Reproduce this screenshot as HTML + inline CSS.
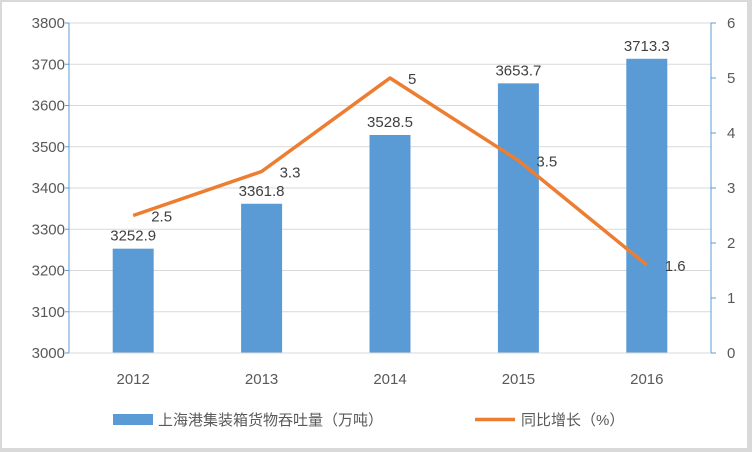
<!DOCTYPE html>
<html><head><meta charset="utf-8"><style>
body{margin:0;background:#d9d9d9;}
#card{position:absolute;left:2px;top:2px;width:745px;height:446px;background:#fff;}
svg{position:absolute;left:0;top:0;}
text{font-family:"Liberation Sans","Noto Sans CJK SC",sans-serif;fill:#595959;font-size:15px;}
</style></head><body>
<div id="card"></div>
<svg id="chart" width="752" height="452"></svg>
<script>
const categories=["2012","2013","2014","2015","2016"];
const throughput=[3252.9,3361.8,3528.5,3653.7,3713.3];
const growth=[2.5,3.3,5,3.5,1.6];
const leftTicks=[3000,3100,3200,3300,3400,3500,3600,3700,3800];
const rightTicks=[0,1,2,3,4,5,6];
const NS="http://www.w3.org/2000/svg";
const svg=document.getElementById('chart');
const X0=69,X1=711,Y0=353,Y1=23;
const band=(X1-X0)/categories.length;
const xc=i=>X0+band*(i+0.5);
const yL=v=>Y0-(v-3000)/800*(Y0-Y1);
const yR=v=>Y0-v/6*(Y0-Y1);
function el(t,a,txt){const e=document.createElementNS(NS,t);for(const k in a)e.setAttribute(k,a[k]);if(txt!==undefined)e.textContent=txt;svg.appendChild(e);return e;}
leftTicks.forEach(v=>{
 if(v>3000){const g=el('line',{x1:X0,x2:X1,y1:yL(v),y2:yL(v),stroke:'#d9d9d9'});
 }
 const t=el('line',{x1:X0-4,x2:X0,y1:yL(v),y2:yL(v),stroke:'#5b9bd5'});
 
 const l=el('text',{x:X0-4,y:yL(v)+5,'text-anchor':'end'},v);
 
});
rightTicks.forEach(v=>{
 const t=el('line',{x1:X1,x2:X1+5,y1:yR(v),y2:yR(v),stroke:'#5b9bd5'});
 
 const l=el('text',{x:X1+16,y:yR(v)+5,'text-anchor':'start'},v);
 
});
categories.forEach((c,i)=>{
 const b=el('rect',{x:xc(i)-20.5,y:yL(throughput[i]),width:41,height:Y0-yL(throughput[i]),fill:'#5b9bd5'});
 
 const bl=el('text',{x:xc(i),y:yL(throughput[i])-8,'text-anchor':'middle',style:'fill:#404040'},throughput[i].toFixed(1));
 
 const xl=el('text',{x:xc(i),y:384,'text-anchor':'middle'},c);
 
});
const ax=el('line',{x1:X0,x2:X0,y1:Y1,y2:Y0,stroke:'#5b9bd5'});

const ax2=el('line',{x1:X1,x2:X1,y1:Y1,y2:Y0,stroke:'#5b9bd5'});

const base=el('line',{x1:X0,x2:X1,y1:Y0,y2:Y0,stroke:'#d9d9d9'});

const pl=el('polyline',{points:growth.map((v,i)=>xc(i)+','+yR(v)).join(' '),fill:'none',stroke:'#ed7d31','stroke-width':3.5,'stroke-linejoin':'round'});

growth.forEach((v,i)=>{
 const l=el('text',{x:xc(i)+18,y:yR(v)+6,'text-anchor':'start',style:'fill:#404040'},v);
 
});
const lr=el('rect',{x:113,y:414,width:40,height:11,fill:'#5b9bd5'});

const lt=el('text',{x:158,y:425},'上海港集装箱货物吞吐量（万吨）');

const ll=el('line',{x1:475,x2:515,y1:419.5,y2:419.5,stroke:'#ed7d31','stroke-width':3.5});

const lt2=el('text',{x:521,y:425},'同比增长（%）');

</script>
</body></html>
